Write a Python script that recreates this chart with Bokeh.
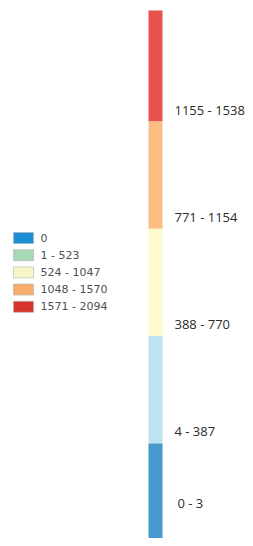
from bokeh.plotting import figure
from bokeh.models import Range1d, ColumnDataSource
from bokeh.core.properties import value
from bokeh.embed import file_html
from bokeh.resources import INLINE

# ---- data ----
bar_labels = ["1155 - 1538", "771 - 1154", "388 - 770", "4 - 387", "0 - 3"]
bar_colors = ["#e8514e", "#fbbe81", "#fefad0", "#bde3f1", "#4599cc"]

legend_labels = ["0", "1 - 523", "524 - 1047", "1048 - 1570", "1571 - 2094"]
legend_colors = ["#1a8fd5", "#a8d7b5", "#f8f6c8", "#f9ad6d", "#d8322c"]

# ---- layout (screen pixels) ----
W, H = 245, 538
bar_left, bar_right = 148, 162
bar_top, first_edge, seg_h, bar_bottom = 10, 121, 107.3, H
label_x = [174, 174, 174, 174, 177]
label_dy = [-12, -12, -12, -12, -36]

leg_box_l, leg_box_r = 13, 33
leg_y0, leg_dy, leg_box_h = 237.5, 17.2, 11
leg_text_x = 40

p = figure(width=W, height=H, output_backend="svg", toolbar_location=None,
           x_range=Range1d(0, W), y_range=Range1d(H, 0),
           min_border=0, outline_line_color=None)
p.axis.visible = False
p.grid.visible = False
p.background_fill_color = "white"
p.border_fill_color = "white"

n = len(bar_labels)
edges = [bar_top] + [first_edge + i * seg_h for i in range(n - 1)] + [bar_bottom]
tops = edges[:-1]
bottoms = edges[1:]
bar_src = ColumnDataSource(dict(
    top=tops, bottom=bottoms,
    left=[bar_left] * n, right=[bar_right] * n,
    color=bar_colors, label=bar_labels,
    lx=label_x, ly=[b + d for b, d in zip(bottoms, label_dy)],
))
p.quad(top="top", bottom="bottom", left="left", right="right",
       fill_color="color", line_color=None, source=bar_src)
p.text(x="lx", y="ly", text="label", source=bar_src,
       text_font=value("Open Sans"), text_font_size="13px",
       text_color="#2b2b2b", text_baseline="middle", text_align="left")

m = len(legend_labels)
ly = [leg_y0 + i * leg_dy for i in range(m)]
leg_src = ColumnDataSource(dict(
    top=[y - leg_box_h / 2 for y in ly], bottom=[y + leg_box_h / 2 for y in ly],
    left=[leg_box_l] * m, right=[leg_box_r] * m,
    color=legend_colors, label=legend_labels,
    tx=[leg_text_x] * m, ty=ly,
))
p.quad(top="top", bottom="bottom", left="left", right="right",
       fill_color="color", line_color="#b0b0b0", line_width=0.6, source=leg_src)
p.text(x="tx", y="ty", text="label", source=leg_src,
       text_font=value("DejaVu Sans"), text_font_size="11px",
       text_color="#505050", text_baseline="middle", text_align="left")

open("out.html", "w").write(file_html(p, INLINE))
